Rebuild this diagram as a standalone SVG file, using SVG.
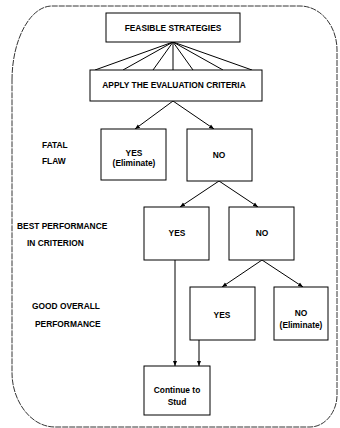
<svg xmlns="http://www.w3.org/2000/svg" width="340" height="428" viewBox="0 0 340 428">
<defs>
<marker id="ah" viewBox="0 0 10 10" refX="10" refY="5" markerWidth="5" markerHeight="5" orient="auto" markerUnits="userSpaceOnUse">
<path d="M0,1 L10,5 L0,9 Z" fill="#000"/>
</marker>
</defs>
<style>
.box{fill:#fff;stroke:#000;stroke-width:1}
.t{font-family:"Liberation Sans",Arial,sans-serif;font-size:8.4px;font-weight:bold;fill:#000;text-anchor:middle}
.l{font-family:"Liberation Sans",Arial,sans-serif;font-size:8.4px;font-weight:bold;fill:#000}
.c{stroke:#000;stroke-width:1;fill:none}
.a{stroke:#000;stroke-width:1;fill:none;marker-end:url(#ah)}
</style>
<rect width="340" height="428" fill="#fff"/>
<path id="frame" d="M12 80 C12 40 30 6 52 6 L300 6 C320 6 337 25 337 50 L337 395 C337 412 325 427 310 427 L55 427 C30 427 12 400 12 373 Z" fill="none" stroke="#000" stroke-width="0.8" stroke-dasharray="6 1"/>
<g id="connectors">
<path class="c" d="M173 42 L95 70 M173 42 L123 70 M173 42 L153 70 M173 42 L173 70 M173 42 L193 70 M173 42 L223 70 M173 42 L252 70"/>
<path class="a" d="M173 101 L135 129"/>
<path class="a" d="M173 101 L214 129"/>
<path class="a" d="M219 181 L180 207"/>
<path class="a" d="M219 181 L258 207"/>
<path class="a" d="M262 260 L222 287"/>
<path class="a" d="M262 260 L303 287"/>
<path class="a" d="M175 260 L175 366"/>
<path class="a" d="M199 340 L199 366"/>
</g>
<g id="labels">
<text class="l" x="42" y="148">FATAL</text>
<text class="l" x="42" y="164">FLAW</text>
<text class="l" x="17" y="229">BEST PERFORMANCE</text>
<text class="l" x="27" y="246">IN CRITERION</text>
<text class="l" x="32" y="309">GOOD OVERALL</text>
<text class="l" x="35" y="327">PERFORMANCE</text>
</g>
<g id="feasible"><rect class="box" x="106" y="13" width="134" height="29"/><text class="t" x="173" y="31">FEASIBLE STRATEGIES</text></g>
<g id="apply"><rect class="box" x="90" y="70" width="172" height="31"/><text class="t" x="174" y="88">APPLY THE EVALUATION CRITERIA</text></g>
<g id="fatal-yes"><rect class="box" x="101" y="129" width="65" height="51"/><text class="t" x="134" y="156">YES</text><text class="t" x="134" y="166">(Eliminate)</text></g>
<g id="fatal-no"><rect class="box" x="187" y="129" width="65" height="52"/><text class="t" x="219" y="158">NO</text></g>
<g id="best-yes"><rect class="box" x="144" y="207" width="65" height="53"/><text class="t" x="177" y="236">YES</text></g>
<g id="best-no"><rect class="box" x="229" y="207" width="65" height="53"/><text class="t" x="262" y="236">NO</text></g>
<g id="good-yes"><rect class="box" x="190" y="287" width="65" height="53"/><text class="t" x="222" y="318">YES</text></g>
<g id="good-no"><rect class="box" x="274" y="287" width="54" height="53"/><text class="t" x="301" y="316">NO</text><text class="t" x="301" y="328">(Eliminate)</text></g>
<g id="continue"><rect class="box" x="144" y="366" width="66" height="49"/><text class="t" x="177" y="393">Continue to</text><text class="t" x="177" y="405">Stud</text></g>
</svg>
